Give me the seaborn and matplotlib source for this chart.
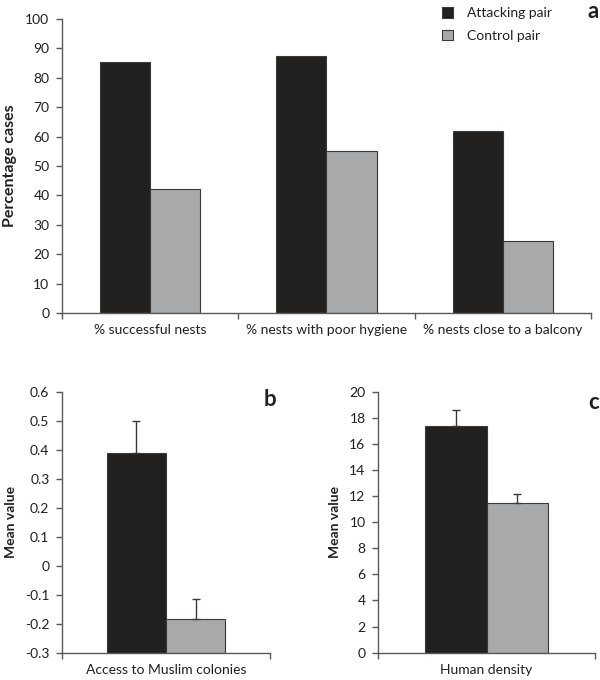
import numpy as np
import pandas as pd
import matplotlib
matplotlib.use('Agg')
import matplotlib.pyplot as plt
import seaborn as sns
from matplotlib.ticker import FixedLocator, FixedFormatter
from matplotlib.patches import Patch

# ---- data ----
groups = ["Attacking pair", "Control pair"]
a_categories = ["% successful nests", "% nests with poor hygiene", "% nests close to a balcony"]
a_attacking = [85.3, 87.3, 61.8]
a_control = [42.1, 55.0, 24.5]

b_category = ["Access to Muslim colonies"]
b_means = [0.39, -0.185]
b_errors = [0.11, 0.07]

c_category = ["Human density"]
c_means = [17.4, 11.5]
c_errors = [1.2, 0.7]

colors = ["#231f20", "#a7a9ac"]
edge = "#3a3a3a"
text_col = "#231f20"

sns.set_style("white")
plt.rcParams['font.family'] = ['Lato', 'DejaVu Sans']
plt.rcParams['axes.unicode_minus'] = False
plt.rcParams['text.color'] = text_col
plt.rcParams['axes.labelcolor'] = text_col
plt.rcParams['xtick.color'] = text_col
plt.rcParams['ytick.color'] = text_col

fig = plt.figure(figsize=(6, 6.8), dpi=100)
ax_a = fig.add_axes([0.1033, 0.5397, 0.8817, 0.4324])
ax_b = fig.add_axes([0.1033, 0.0403, 0.3467, 0.3832])
ax_c = fig.add_axes([0.63, 0.0403, 0.3617, 0.3832])


def style_axes(ax, cats, ticks, ylim, ylabel, ylabel_size=10):
    n_cat = len(cats)
    for s in ["top", "right"]:
        ax.spines[s].set_visible(False)
    for s in ["left", "bottom"]:
        ax.spines[s].set_color("#595959")
        ax.spines[s].set_linewidth(1.0)
    ax.set_xlim(-0.5, n_cat - 0.5)
    ax.set_ylim(*ylim)
    ax.set_yticks(ticks)
    ax.set_yticklabels([f"{t:g}" for t in ticks], fontsize=10)
    ax.tick_params(axis="y", direction="out", length=4, width=1, color="#595959", left=True, pad=5)
    # boundary ticks on the x axis, labels at the centres
    ax.xaxis.set_major_locator(FixedLocator(np.arange(-0.5, n_cat, 1.0)))
    ax.xaxis.set_minor_locator(FixedLocator(np.arange(n_cat)))
    ax.xaxis.set_minor_formatter(FixedFormatter(cats))
    ax.tick_params(axis="x", which="major", direction="out", length=4, width=1,
                   color="#595959", bottom=True, labelbottom=False)
    ax.tick_params(axis="x", which="minor", length=0, labelsize=10, pad=8)
    ax.set_xlabel("")
    ax.set_ylabel(ylabel, fontsize=ylabel_size, fontweight="bold", labelpad=6)


def draw_bars(ax, cats, first, second, base):
    df = pd.DataFrame({"cat": [c for c in cats for _ in groups],
                       "group": groups * len(cats),
                       "value": [v for pair in zip(first, second) for v in pair]})
    sns.barplot(data=df, x="cat", y="value", hue="group", hue_order=groups, palette=colors,
                width=0.57, edgecolor=edge, linewidth=0.8, errorbar=None, legend=False, ax=ax)
    # bars start at the bottom of the axis (Excel style)
    for cont in ax.containers:
        for p in cont:
            h = p.get_height()
            p.set_y(base)
            p.set_height(h - base)


# ---- panel a ----
draw_bars(ax_a, a_categories, a_attacking, a_control, 0)
style_axes(ax_a, a_categories, np.arange(0, 101, 10), (0, 100), "Percentage cases", 11.5)

handles = [Patch(facecolor=c, edgecolor=edge, linewidth=0.8) for c in colors]
fig.legend(handles, groups, loc="upper left", bbox_to_anchor=(0.716, 1.008), frameon=False,
           fontsize=10, handlelength=0.8, handleheight=0.8, handletextpad=1.0, labelspacing=0.75)
fig.text(0.998, 0.998, "a", fontsize=16, fontweight="bold", ha="right", va="top")

# ---- panel b ----
draw_bars(ax_b, b_category, [b_means[0]], [b_means[1]], -0.3)
style_axes(ax_b, b_category, np.round(np.arange(-0.3, 0.61, 0.1), 1), (-0.3, 0.6), "Mean value")
ax_b.text(1.03, 1.01, "b", transform=ax_b.transAxes, fontsize=16, fontweight="bold",
          ha="right", va="top")

# ---- panel c ----
draw_bars(ax_c, c_category, [c_means[0]], [c_means[1]], 0)
style_axes(ax_c, c_category, np.arange(0, 21, 2), (0, 20), "Mean value")
fig.text(0.998, 0.4235, "c", fontsize=16, fontweight="bold", ha="right", va="top")

# one-sided error bars
for ax, means, errs in [(ax_b, b_means, b_errors), (ax_c, c_means, c_errors)]:
    for cont, m, e in zip(ax.containers, means, errs):
        p = cont[0]
        xc = p.get_x() + p.get_width() / 2
        ax.errorbar([xc], [m], yerr=[[0], [e]], fmt="none", ecolor=edge, elinewidth=1,
                    capsize=3, capthick=1, zorder=1)

fig.savefig("out.png", dpi=100)
